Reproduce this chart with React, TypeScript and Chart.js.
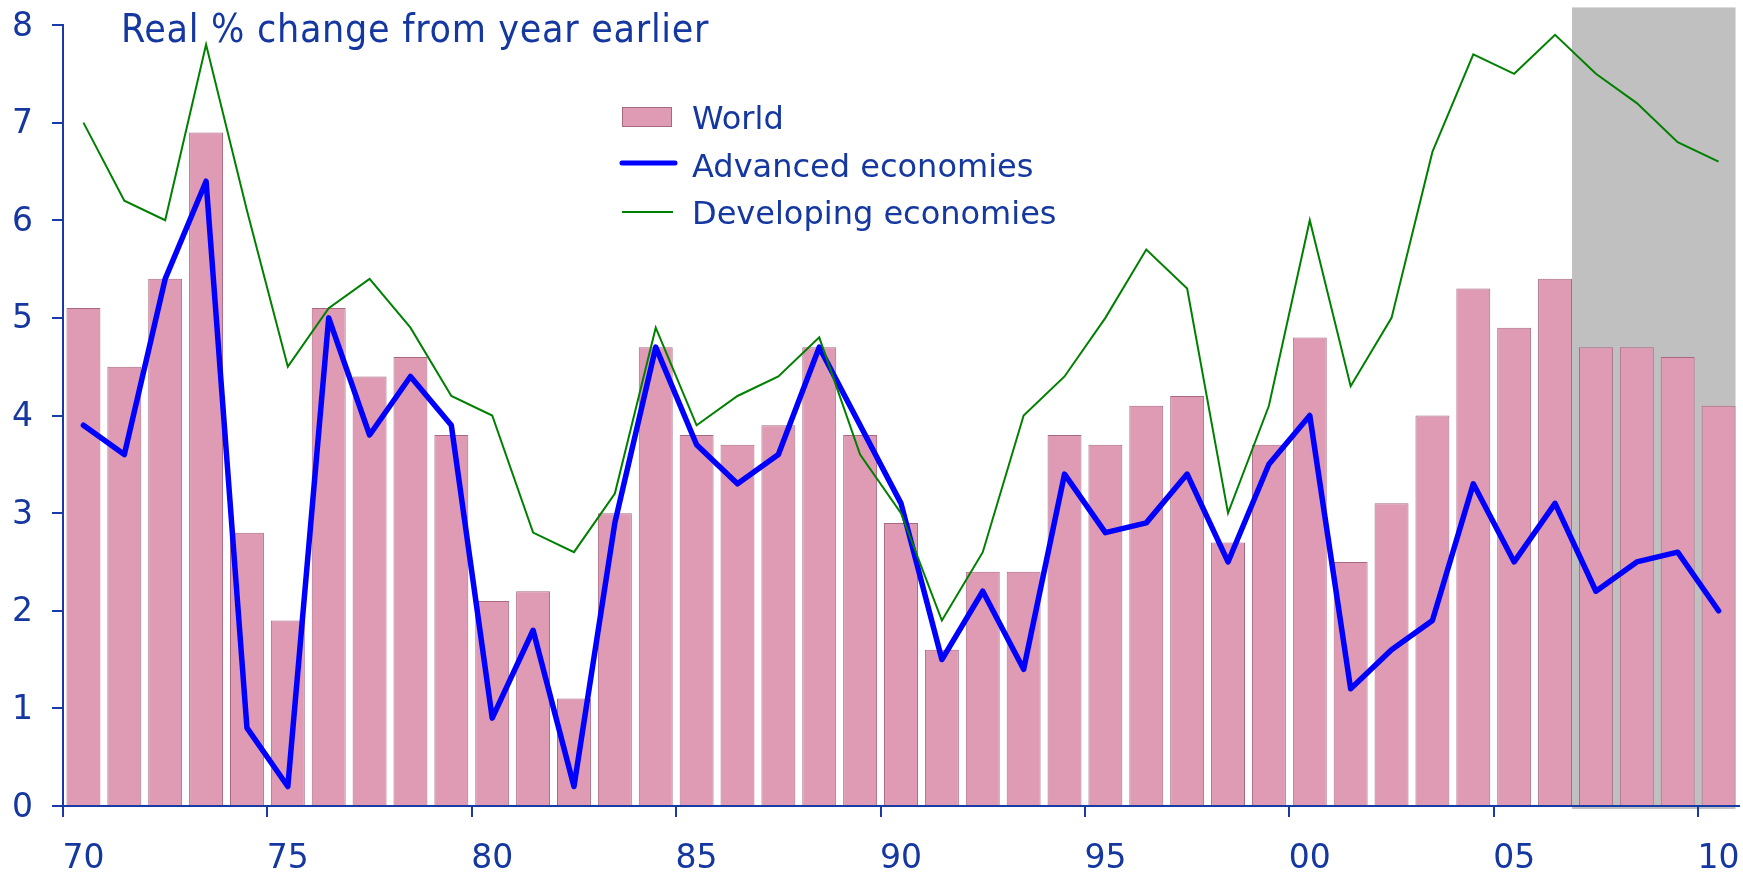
import React, { useEffect, useRef } from 'react';
import { Chart, registerables } from 'chart.js';

Chart.register(...registerables);

// ---------- data ----------
const years = [
  '1970', '1971', '1972', '1973', '1974', '1975', '1976', '1977', '1978', '1979',
  '1980', '1981', '1982', '1983', '1984', '1985', '1986', '1987', '1988', '1989',
  '1990', '1991', '1992', '1993', '1994', '1995', '1996', '1997', '1998', '1999',
  '2000', '2001', '2002', '2003', '2004', '2005', '2006', '2007', '2008', '2009',
  '2010',
];

const tickYears = ['1970', '1975', '1980', '1985', '1990', '1995', '2000', '2005', '2010'];
const tickLabels = ['70', '75', '80', '85', '90', '95', '00', '05', '10'];

const world = [
  5.1, 4.5, 5.4, 6.9, 2.8, 1.9, 5.1, 4.4, 4.6, 3.8,
  2.1, 2.2, 1.1, 3.0, 4.7, 3.8, 3.7, 3.9, 4.7, 3.8,
  2.9, 1.6, 2.4, 2.4, 3.8, 3.7, 4.1, 4.2, 2.7, 3.7,
  4.8, 2.5, 3.1, 4.0, 5.3, 4.9, 5.4, 4.7, 4.7, 4.6,
  4.1,
];

const advanced = [
  3.9, 3.6, 5.4, 6.4, 0.8, 0.2, 5.0, 3.8, 4.4, 3.9,
  0.9, 1.8, 0.2, 2.9, 4.7, 3.7, 3.3, 3.6, 4.7, 3.9,
  3.1, 1.5, 2.2, 1.4, 3.4, 2.8, 2.9, 3.4, 2.5, 3.5,
  4.0, 1.2, 1.6, 1.9, 3.3, 2.5, 3.1, 2.2, 2.5, 2.6,
  2.0,
];

const developing = [
  7.0, 6.2, 6.0, 7.8, 6.1, 4.5, 5.1, 5.4, 4.9, 4.2,
  4.0, 2.8, 2.6, 3.2, 4.9, 3.9, 4.2, 4.4, 4.8, 3.6,
  3.0, 1.9, 2.6, 4.0, 4.4, 5.0, 5.7, 5.3, 3.0, 4.1,
  6.0, 4.3, 5.0, 6.7, 7.7, 7.5, 7.9, 7.5, 7.2, 6.8,
  6.6,
];

// projection shading: from the end of the 2006 bar to the end of the 2010 bar
const shadeFrom = '2006';
const shadeTo = '2010';

const seriesNames = ['World', 'Advanced economies', 'Developing economies'];
const titleText = 'Real % change from year earlier';

// ---------- styles ----------
const TEXT = '#1537A0';
const AXIS = '#1A3AA8';
const PINK = '#DE9BB3';
const PINK_BORDER = '#A86880';
const BLUE = '#0000FF';
const GREEN = '#008000';
const GRAY = '#C0C0C0';
const BAR_PCT = 0.83;
const FONT = '"DejaVu Sans", Verdana, sans-serif';

const shadePlugin = {
  id: 'shadeRegion',
  beforeDraw(chart: any) {
    const x = chart.scales.x;
    const y = chart.scales.y;
    const ctx = chart.ctx;
    const i0 = years.indexOf(shadeFrom);
    const i1 = years.indexOf(shadeTo);
    const slot = x.getPixelForValue(1) - x.getPixelForValue(0);
    const half = (slot * BAR_PCT) / 2;
    const left = x.getPixelForValue(i0) + half;
    const right = x.getPixelForValue(i1) + half;
    const top = y.getPixelForValue(8.18);
    const bottom = y.getPixelForValue(0) + 3;
    ctx.save();
    ctx.fillStyle = GRAY;
    ctx.fillRect(left, top, right - left, bottom - top);
    ctx.restore();
  },
};

const textPlugin = {
  id: 'titleAndLegend',
  afterDraw(chart: any) {
    const ctx = chart.ctx;
    ctx.save();
    // title
    ctx.fillStyle = TEXT;
    ctx.textBaseline = 'alphabetic';
    ctx.textAlign = 'left';
    ctx.font = '39px "DejaVu Sans Condensed", "DejaVu Sans", sans-serif';
    try {
      (ctx as any).letterSpacing = '0.7px';
    } catch (e) {}
    ctx.fillText(titleText, 121, 42);
    try {
      (ctx as any).letterSpacing = '0px';
    } catch (e) {}

    // legend
    const lx = 622;
    const tx = 692;
    const rows = [117, 165, 212];
    // World box
    ctx.fillStyle = PINK;
    ctx.fillRect(lx, rows[0] - 10, 50, 20);
    ctx.strokeStyle = PINK_BORDER;
    ctx.lineWidth = 1;
    ctx.strokeRect(lx + 0.5, rows[0] - 9.5, 49, 19);
    // Advanced line
    ctx.strokeStyle = BLUE;
    ctx.lineWidth = 5;
    ctx.lineCap = 'round';
    ctx.beginPath();
    ctx.moveTo(lx, rows[1] - 2);
    ctx.lineTo(lx + 53, rows[1] - 2);
    ctx.stroke();
    // Developing line
    ctx.strokeStyle = GREEN;
    ctx.lineWidth = 2;
    ctx.lineCap = 'butt';
    ctx.beginPath();
    ctx.moveTo(lx, rows[2]);
    ctx.lineTo(lx + 51, rows[2]);
    ctx.stroke();

    ctx.fillStyle = TEXT;
    ctx.font = '32px ' + FONT;
    ctx.textBaseline = 'alphabetic';
    const baselines = [129, 177, 224];
    seriesNames.forEach((name, i) => {
      ctx.fillText(name, tx, baselines[i]);
    });
    ctx.restore();
  },
};

export default function App() {
  const canvasRef = useRef<HTMLCanvasElement | null>(null);

  useEffect(() => {
    if (!canvasRef.current) return;
    const chart = new Chart(canvasRef.current, {
      type: 'bar',
      data: {
        labels: years,
        datasets: [
          {
            type: 'line',
            label: seriesNames[2],
            data: developing,
            borderColor: GREEN,
            borderWidth: 2,
            pointRadius: 0,
            tension: 0,
            order: 1,
          } as any,
          {
            type: 'line',
            label: seriesNames[1],
            data: advanced,
            borderColor: BLUE,
            borderWidth: 5.5,
            pointRadius: 0,
            tension: 0,
            borderJoinStyle: 'round',
            borderCapStyle: 'round',
            order: 2,
          } as any,
          {
            type: 'bar',
            label: seriesNames[0],
            data: world,
            backgroundColor: PINK,
            borderColor: PINK_BORDER,
            borderWidth: 1,
            categoryPercentage: 1,
            barPercentage: BAR_PCT,
            order: 3,
          } as any,
        ],
      },
      options: {
        animation: false,
        responsive: true,
        maintainAspectRatio: false,
        devicePixelRatio: 1,
        layout: { padding: { top: 25, right: 4, left: 0, bottom: 0 } },
        plugins: {
          legend: { display: false },
          tooltip: { enabled: false },
          title: { display: false },
        },
        scales: {
          x: {
            type: 'category',
            offset: true,
            grid: {
              offset: true,
              drawOnChartArea: false,
              drawTicks: true,
              tickLength: 11,
              lineWidth: 2,
              color: (ctx: any) =>
                ctx.index !== undefined && tickYears.includes(years[ctx.index]) ? AXIS : 'rgba(0,0,0,0)',
            },
            border: { display: true, color: AXIS, width: 2, z: 1 },
            ticks: {
              autoSkip: false,
              maxRotation: 0,
              minRotation: 0,
              padding: 0,
              color: TEXT,
              font: { family: FONT, size: 33, lineHeight: 2.57 },
              callback: (_v: any, i: number) => {
                const k = tickYears.indexOf(years[i]);
                return k >= 0 ? tickLabels[k] : '';
              },
            },
            afterFit: (s: any) => {
              s.height = 70;
            },
          },
          y: {
            min: 0,
            max: 8,
            grid: {
              drawOnChartArea: false,
              drawTicks: true,
              tickLength: 11,
              lineWidth: 2,
              color: AXIS,
            },
            border: { display: true, color: AXIS, width: 2 },
            ticks: {
              stepSize: 1,
              padding: 19,
              labelOffset: 2,
              color: TEXT,
              font: { family: FONT, size: 33, lineHeight: 0.2 },
            },
            afterFit: (s: any) => {
              s.width = 63;
            },
          },
        },
      },
      plugins: [shadePlugin, textPlugin],
    });
    return () => chart.destroy();
  }, []);

  return (
    <div style={{ position: 'absolute', left: 0, top: 0, width: 1743, height: 876, background: '#fff' }}>
      <canvas ref={canvasRef} />
    </div>
  );
}
